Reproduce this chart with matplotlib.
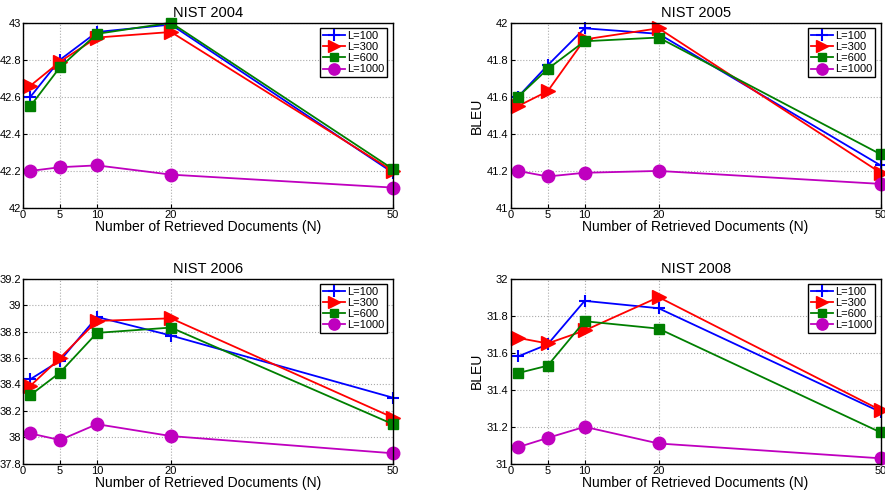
import matplotlib
matplotlib.use("Agg")
import matplotlib.pyplot as plt

plt.rcParams['font.family'] = ['Liberation Sans', 'DejaVu Sans']

# x positions (number of retrieved documents)
docs = [1, 5, 10, 20, 50]
xticks = [0, 5, 10, 20, 50]
labels = ['L=100', 'L=300', 'L=600', 'L=1000']

# BLEU per test set, one list per L setting
nist04_l100 = [42.60, 42.80, 42.95, 42.99, 42.19]
nist04_l300 = [42.66, 42.79, 42.92, 42.95, 42.20]
nist04_l600 = [42.55, 42.76, 42.94, 43.00, 42.21]
nist04_l1000 = [42.20, 42.22, 42.23, 42.18, 42.11]

nist05_l100 = [41.60, 41.77, 41.97, 41.94, 41.23]
nist05_l300 = [41.55, 41.63, 41.91, 41.97, 41.19]
nist05_l600 = [41.60, 41.75, 41.90, 41.92, 41.29]
nist05_l1000 = [41.20, 41.17, 41.19, 41.20, 41.13]

nist06_l100 = [38.44, 38.58, 38.91, 38.77, 38.30]
nist06_l300 = [38.39, 38.60, 38.88, 38.90, 38.15]
nist06_l600 = [38.32, 38.49, 38.79, 38.83, 38.10]
nist06_l1000 = [38.03, 37.98, 38.10, 38.01, 37.88]

nist08_l100 = [31.58, 31.645, 31.88, 31.84, 31.28]
nist08_l300 = [31.68, 31.65, 31.72, 31.90, 31.29]
nist08_l600 = [31.49, 31.53, 31.77, 31.73, 31.17]
nist08_l1000 = [31.09, 31.14, 31.20, 31.11, 31.03]

colors = ['#0000ff', '#ff0000', '#007f00', '#bf00bf']
markers = ['+', '>', 's', 'o']
msizes = [9, 10, 7, 9]

panels = [
    ("NIST 2004", [nist04_l100, nist04_l300, nist04_l600, nist04_l1000],
     (42, 43), [42, 42.2, 42.4, 42.6, 42.8, 43], ['42', '42.2', '42.4', '42.6', '42.8', '43'], False),
    ("NIST 2005", [nist05_l100, nist05_l300, nist05_l600, nist05_l1000],
     (41, 42), [41, 41.2, 41.4, 41.6, 41.8, 42], ['41', '41.2', '41.4', '41.6', '41.8', '42'], True),
    ("NIST 2006", [nist06_l100, nist06_l300, nist06_l600, nist06_l1000],
     (37.8, 39.2), [37.8, 38, 38.2, 38.4, 38.6, 38.8, 39, 39.2],
     ['37.8', '38', '38.2', '38.4', '38.6', '38.8', '39', '39.2'], False),
    ("NIST 2008", [nist08_l100, nist08_l300, nist08_l600, nist08_l1000],
     (31, 32), [31, 31.2, 31.4, 31.6, 31.8, 32], ['31', '31.2', '31.4', '31.6', '31.8', '32'], True),
]

# axes rectangles in figure fractions
rects = [
    [0.026, 0.579, 0.418, 0.375],
    [0.577, 0.579, 0.418, 0.375],
    [0.026, 0.061, 0.418, 0.375],
    [0.577, 0.061, 0.418, 0.375],
]

fig = plt.figure(figsize=(8.85, 4.94), dpi=100)

for rect, (title, series, ylim, yt, ytl, bleu) in zip(rects, panels):
    ax = fig.add_axes(rect)
    for vals, lab, c, m, ms in zip(series, labels, colors, markers, msizes):
        mew = 1.5 if m == '+' else 1
        ax.plot(docs, vals, color=c, marker=m, markersize=ms, linewidth=1.3,
                markeredgewidth=mew, markerfacecolor=c, markeredgecolor=c,
                label=lab, clip_on=False)
    ax.set_xlim(0, 50)
    ax.set_ylim(*ylim)
    ax.set_xticks(xticks)
    ax.set_yticks(yt)
    ax.set_yticklabels(ytl)
    ax.tick_params(direction='in', labelsize=8, pad=1.5, length=3)
    ax.grid(True, linestyle=':', color='#aaaaaa', linewidth=0.8)
    for sp in ax.spines.values():
        sp.set_linewidth(1.0)
    ax.set_title(title, fontsize=10.5, pad=4)
    ax.set_xlabel("Number of Retrieved Documents (N)", fontsize=10, labelpad=0)
    if bleu:
        ax.set_ylabel("BLEU", fontsize=10, labelpad=2)
    leg = ax.legend(loc='upper right', fontsize=8, handlelength=2.0, handletextpad=0.2,
                    borderpad=0.25, labelspacing=0.1, fancybox=False, framealpha=1,
                    borderaxespad=0.5)
    leg.get_frame().set_edgecolor('black')
    leg.get_frame().set_linewidth(1.0)
    for h in leg.legend_handles:
        h.set_markersize(h.get_markersize() * 0.9)

fig.savefig("out.png", dpi=100)
